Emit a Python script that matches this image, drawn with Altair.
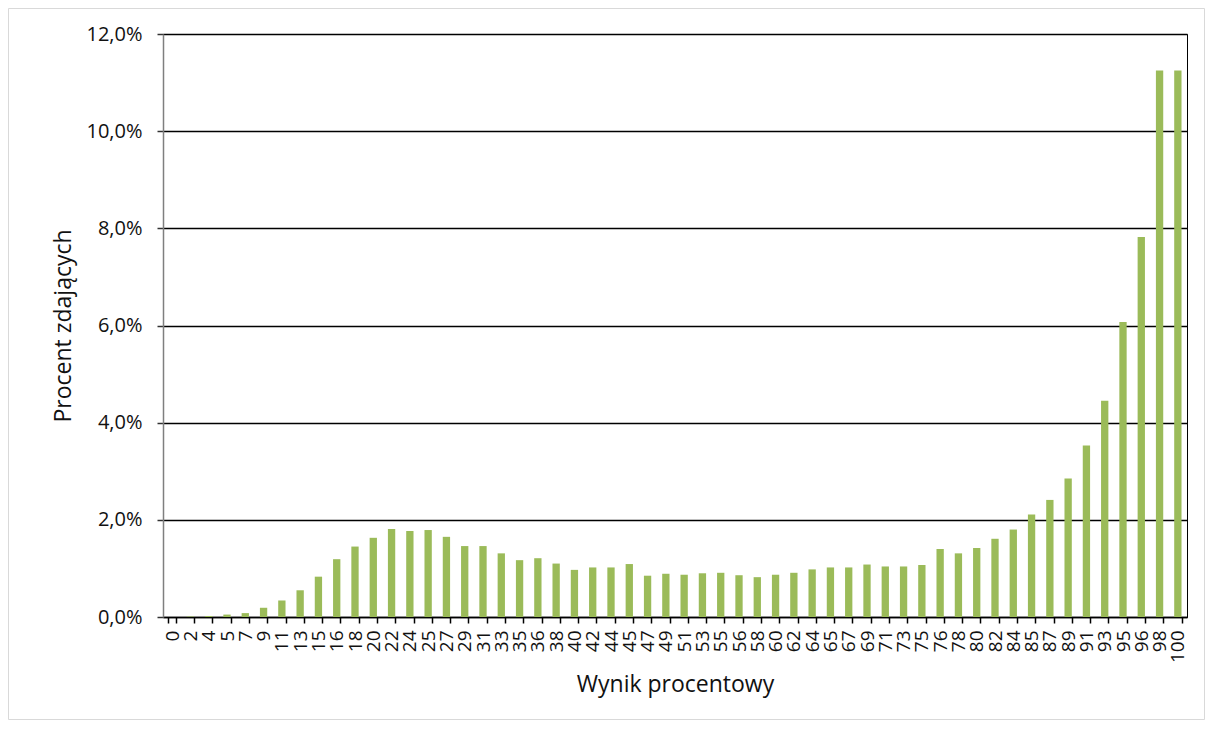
import altair as alt
import pandas as pd

scores = ["0", "2", "4", "5", "7", "9", "11", "13", "15", "16", "18", "20", "22", "24", "25",
          "27", "29", "31", "33", "35", "36", "38", "40", "42", "44", "45", "47", "49", "51",
          "53", "55", "56", "58", "60", "62", "64", "65", "67", "69", "71", "73", "75", "76",
          "78", "80", "82", "84", "85", "87", "89", "91", "93", "95", "96", "98", "100"]
percents = [0.00, 0.01, 0.02, 0.05, 0.08, 0.19, 0.34, 0.55, 0.83, 1.19, 1.45, 1.63, 1.81, 1.77,
            1.79, 1.65, 1.46, 1.46, 1.31, 1.17, 1.21, 1.10, 0.97, 1.02, 1.02, 1.09, 0.85, 0.89,
            0.87, 0.90, 0.91, 0.86, 0.82, 0.87, 0.91, 0.98, 1.02, 1.02, 1.08, 1.04, 1.04, 1.07,
            1.40, 1.31, 1.42, 1.61, 1.80, 2.11, 2.41, 2.85, 3.53, 4.45, 6.07, 7.82, 11.25, 11.25]
y_ticks = [0, 2, 4, 6, 8, 10, 12]

df = pd.DataFrame({"wynik": scores, "procent": percents})

FONT = "Open Sans"

bars = alt.Chart(df).mark_bar(color="#9BBB59").encode(
    x=alt.X(
        "wynik:N",
        sort=None,
        scale=alt.Scale(paddingInner=0.6, paddingOuter=0.3),
        axis=alt.Axis(
            title="Wynik procentowy",
            labelAngle=-90,
            tickBand="extent",
            tickSize=6,
            tickColor="#000000",
            tickWidth=1.5,
            domainColor="#000000",
            domainWidth=1.5,
            labelPadding=7,
            labelFont=FONT,
            labelFontSize=19,
            labelColor="#111111",
            labelOverlap=False,
            titleFont=FONT,
            titleFontSize=23,
            titleFontWeight="normal",
            titleColor="#111111",
            titlePadding=11,
        ),
    ),
    y=alt.Y(
        "procent:Q",
        scale=alt.Scale(domain=[0, 12], nice=False),
        axis=alt.Axis(
            title="Procent zdających",
            values=y_ticks,
            labelExpr="replace(format(datum.value, '.1f'), '.', ',') + '%'",
            grid=True,
            gridColor="#000000",
            gridWidth=1.5,
            tickSize=6,
            tickColor="#333333",
            tickWidth=1.5,
            domainColor="#7f7f7f",
            domainWidth=1.5,
            labelPadding=15,
            labelFont=FONT,
            labelFontSize=20,
            labelColor="#111111",
            titleFont=FONT,
            titleFontSize=23,
            titleFontWeight="normal",
            titleColor="#111111",
            titlePadding=10,
        ),
    ),
)

frame = alt.Chart(pd.DataFrame({"f": [0]})).mark_rect(
    fill=None, stroke="#d9d9d9", strokeWidth=1
).encode(
    x=alt.value(-154.5), x2=alt.value(1024 + 17.5),
    y=alt.value(-25.5), y2=alt.value(583 + 102.5),
)

chart = alt.layer(frame, bars).properties(
    width=1024,
    height=583,
    padding={"left": 155, "top": 26, "right": 18, "bottom": 105},
    autosize=alt.AutoSizeParams(type="none"),
).configure_view(stroke="#000000", strokeWidth=1)

chart.save("out.html", embed_options={"renderer": "svg", "actions": False})
